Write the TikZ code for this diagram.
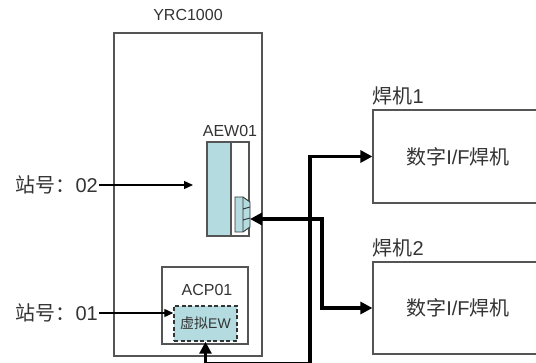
\documentclass[tikz,border=0pt]{standalone}
\usepackage{fontspec}
\setmainfont{Liberation Sans}
\newfontfamily\cjk{Noto Sans CJK SC}
\usetikzlibrary{arrows.meta,positioning}
\definecolor{BoardTeal}{HTML}{B4DCE0}
\definecolor{FrameGray}{HTML}{555555}
\definecolor{TextGray}{HTML}{333333}

\begin{document}
\begin{tikzpicture}[x=1pt, y=-1pt,
    box/.style={draw=FrameGray, line width=1.2pt, inner sep=0pt, text=TextGray},
    lbl/.style={text=TextGray, font=\fontsize{16}{19}\selectfont, inner sep=1pt},
    biglbl/.style={text=TextGray, font=\fontsize{20}{24}\selectfont, inner sep=1pt},
    arrow/.style={-{Triangle[length=9pt,width=8pt]}, line width=1.4pt},
    bus/.style={{Triangle[length=12pt,width=12pt]}-{Triangle[length=12pt,width=12pt]}, line width=3.5pt}
  ]
    \useasboundingbox (0,0) rectangle (536,363);

    % controller cabinet
    \node[box, minimum width=148pt, minimum height=323pt] (yrc) at (188,194.5) {};
    \node[lbl] (yrclbl) at (188,15) {YRC1000};

    % AEW01 board with its connector
    \fill[BoardTeal] (207,142) rectangle (231,236);
    \node[box, minimum width=42pt, minimum height=94pt] (aew) at (228,189) {};
    \draw[FrameGray, line width=1.2pt] (231,142) -- (231,236);
    \node[lbl] (aewlbl) at (230,131) {AEW01};
    \filldraw[fill=BoardTeal, draw=black!80, line width=0.9pt]
      (235,197) -- (243,197) -- (250,202) -- (250,227) -- (243,232) -- (235,232) -- cycle;
    \draw[black!80, line width=0.9pt] (243,197) -- (243,232)
      (243,209) -- (250,207) (243,220) -- (250,218);
    \coordinate (port) at (250,219);
    \coordinate (aewin) at (193,185);

    % ACP01 with virtual EW
    \node[box, minimum width=86pt, minimum height=77pt] (acp) at (205,305.5) {};
    \node[lbl] (acplbl) at (207,290) {ACP01};
    \node[box, draw=TextGray, fill=BoardTeal, line width=1.5pt, dash pattern=on 4pt off 2.5pt,
      minimum width=63pt, minimum height=35pt, font=\fontsize{14}{16}\selectfont] (ew) at (205.5,323.5) {{\cjk 虚拟}EW};

    % station numbers
    \node[biglbl, anchor=east] (st2) at (99,185) {{\cjk 站号：}02};
    \node[biglbl, anchor=east] (st1) at (99,313) {{\cjk 站号：}01};
    \draw[arrow] (st2.east) -- (aewin);
    \draw[arrow] (st1.east) -- (st1.east -| ew.west);

    % welders
    \node[box, minimum width=170pt, minimum height=93pt, font=\fontsize{20}{24}\selectfont] (weld1) at (458,156.5) {{\cjk 数字}I/F{\cjk 焊机}};
    \node[box, minimum width=170pt, minimum height=92pt, font=\fontsize{20}{24}\selectfont] (weld2) at (458,308) {{\cjk 数字}I/F{\cjk 焊机}};
    \node[biglbl, above right=3pt and -1pt of weld1.north west] (w1lbl) {{\cjk 焊机}1};
    \node[biglbl, above right=3pt and -1pt of weld2.north west] (w2lbl) {{\cjk 焊机}2};

    % communication lines
    \coordinate (tail) at (310,363.5);
    \coordinate (bend) at (322,219);
    \draw[bus] (ew.south) |- (tail) |- (weld1.west);
    \draw[bus] (port) -- (bend) |- (weld2.west);
  \end{tikzpicture}
\end{document}
